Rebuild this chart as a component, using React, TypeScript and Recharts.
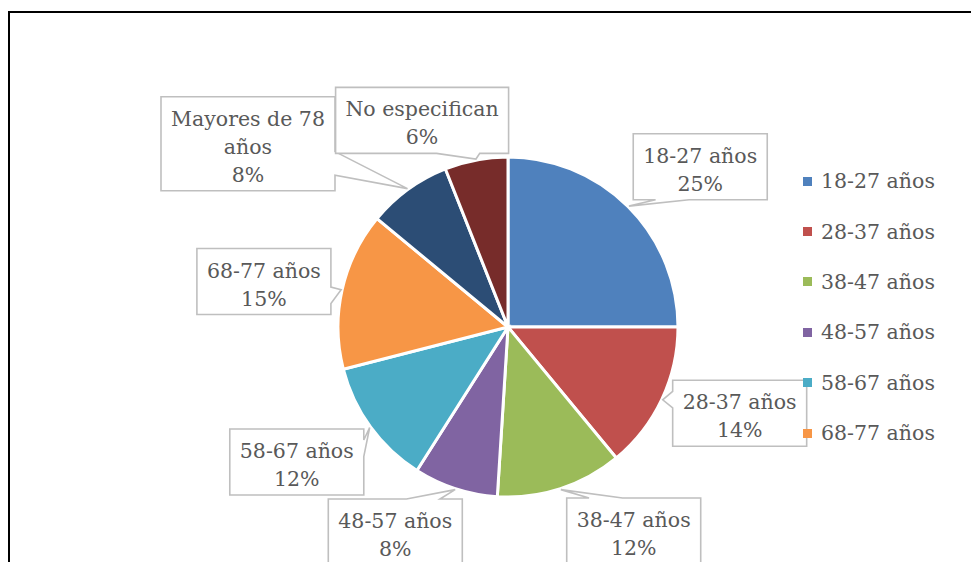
import React from 'react';
import { PieChart, Pie, Cell, Legend } from 'recharts';

// ---- data ----
const categories = ['18-27 años', '28-37 años', '38-47 años', '48-57 años', '58-67 años', '68-77 años', 'Mayores de 78 años', 'No especifican'];
const shares = [25, 14, 12, 8, 12, 15, 8, 6];
const colors = ['#4F81BD', '#C0504D', '#9BBB59', '#8064A2', '#4BACC6', '#F79646', '#2C4D75', '#772C2A'];

// ---- layout (label callout nudges relative to the slice's mid-angle anchor) ----
const labelNudges: [number, number][] = [[19, 13], [10, -18], [50, -29], [-37, -28], [-13, -9], [-5, 8], [-116, 15], [-40, 34]];
// the legend box only has room for this many entries (as in the original)
const LEGEND_VISIBLE = 6;

const FONT = '"DejaVu Serif", serif';
const FONT_SIZE = 20.5;
const TEXT_COLOR = '#595959';

const data = categories.map((name, i) => ({ name, value: shares[i] }));

let ctx: CanvasRenderingContext2D | null = null;
function measure(t: string): number {
  if (!ctx && typeof document !== 'undefined') {
    ctx = document.createElement('canvas').getContext('2d');
  }
  if (ctx) {
    ctx.font = `${FONT_SIZE}px "DejaVu Serif"`;
    return ctx.measureText(t).width;
  }
  return t.length * FONT_SIZE * 0.58;
}

function wrap(text: string, maxW: number): string[] {
  const words = text.split(' ');
  const lines: string[] = [];
  let cur = '';
  words.forEach((w) => {
    const test = cur ? cur + ' ' + w : w;
    if (cur && measure(test) > maxW) {
      lines.push(cur);
      cur = w;
    } else cur = test;
  });
  if (cur) lines.push(cur);
  return lines;
}

const RAD = Math.PI / 180;

const renderLabel = (props: any) => {
  const { cx, cy, midAngle, outerRadius, percent, name, index } = props;
  const tipX = cx + (outerRadius + 1) * Math.cos(midAngle * RAD);
  const tipY = cy - (outerRadius + 1) * Math.sin(midAngle * RAD);
  const R = 245;
  const [nx, ny] = labelNudges[index] || [0, 0];
  const bx = cx + R * Math.cos(midAngle * RAD) + nx;
  const by = cy - R * Math.sin(midAngle * RAD) + ny;
  const lines = [...wrap(name, 156), `${Math.round(percent * 100)}%`];
  const w = Math.round(Math.max(...lines.map(measure)) + 20);
  const h = 28 * lines.length + 10;
  const L = bx - w / 2;
  const T = by - h / 2;
  const dxPos = tipX - bx;
  const dyPos = tipY - by;
  const inside = Math.abs(dxPos) <= w / 2 && Math.abs(dyPos) <= h / 2;
  const dq = (dxPos * h) / w;
  const vertical = Math.abs(dyPos) > Math.abs(dq);
  const x1 = L + (w * (dxPos > 0 ? 7 : 2)) / 12;
  const x2 = L + (w * (dxPos > 0 ? 10 : 5)) / 12;
  const y1 = T + (h * (dyPos > 0 ? 7 : 2)) / 12;
  const y2 = T + (h * (dyPos > 0 ? 10 : 5)) / 12;
  const tip = `${tipX},${tipY}`;
  let d = `M${L},${T}`;
  if (!inside && vertical && dyPos < 0) d += ` L${x1},${T} L${tip} L${x2},${T}`;
  d += ` L${L + w},${T}`;
  if (!inside && !vertical && dxPos > 0) d += ` L${L + w},${y1} L${tip} L${L + w},${y2}`;
  d += ` L${L + w},${T + h}`;
  if (!inside && vertical && dyPos > 0) d += ` L${x2},${T + h} L${tip} L${x1},${T + h}`;
  d += ` L${L},${T + h}`;
  if (!inside && !vertical && dxPos < 0) d += ` L${L},${y2} L${tip} L${L},${y1}`;
  d += ' Z';
  return (
    <g key={`lbl-${index}`}>
      <path d={d} fill="#FFFFFF" stroke="#BFBFBF" strokeWidth={1.6} strokeLinejoin="miter" />
      {lines.map((ln, i) => (
        <text
          key={i}
          x={bx}
          y={T + 29 + 28 * i}
          textAnchor="middle"
          fontFamily={FONT}
          fontSize={FONT_SIZE}
          fill={TEXT_COLOR}
        >
          {ln}
        </text>
      ))}
    </g>
  );
};

const LegendContent = (props: any) => {
  const { payload } = props;
  return (
    <div>
      {(payload || []).slice(0, LEGEND_VISIBLE).map((p: any, i: number) => (
        <div key={i} style={{ height: 50.4, display: 'flex', alignItems: 'center' }}>
          <span style={{ display: 'inline-block', width: 9, height: 9, background: p.color, marginRight: 9 }} />
          <span style={{ fontFamily: FONT, fontSize: FONT_SIZE, color: TEXT_COLOR, whiteSpace: 'nowrap' }}>{p.value}</span>
        </div>
      ))}
    </div>
  );
};

export default function App() {
  return (
    <div style={{ width: 971, height: 554, overflow: 'hidden', position: 'relative' }}>
      <div
        style={{
          position: 'absolute',
          left: 0,
          top: 3,
          width: 1100,
          height: 760,
          border: '2px solid #000',
          background: '#fff',
        }}
      >
        <PieChart width={1100} height={760} margin={{ top: 0, right: 0, bottom: 0, left: 0 }}>
          <Pie
            data={data}
            dataKey="value"
            nameKey="name"
            cx={498}
            cy={314}
            outerRadius={170}
            startAngle={90}
            endAngle={-270}
            stroke="#FFFFFF"
            strokeWidth={3}
            label={renderLabel}
            labelLine={false}
            isAnimationActive={false}
          >
            {data.map((_, i) => (
              <Cell key={i} fill={colors[i]} />
            ))}
          </Pie>
          <Legend
            layout="vertical"
            align="right"
            verticalAlign="top"
            content={<LegendContent />}
            wrapperStyle={{ left: 793, top: 143, right: 'auto', width: 250 }}
          />
        </PieChart>
      </div>
    </div>
  );
}
